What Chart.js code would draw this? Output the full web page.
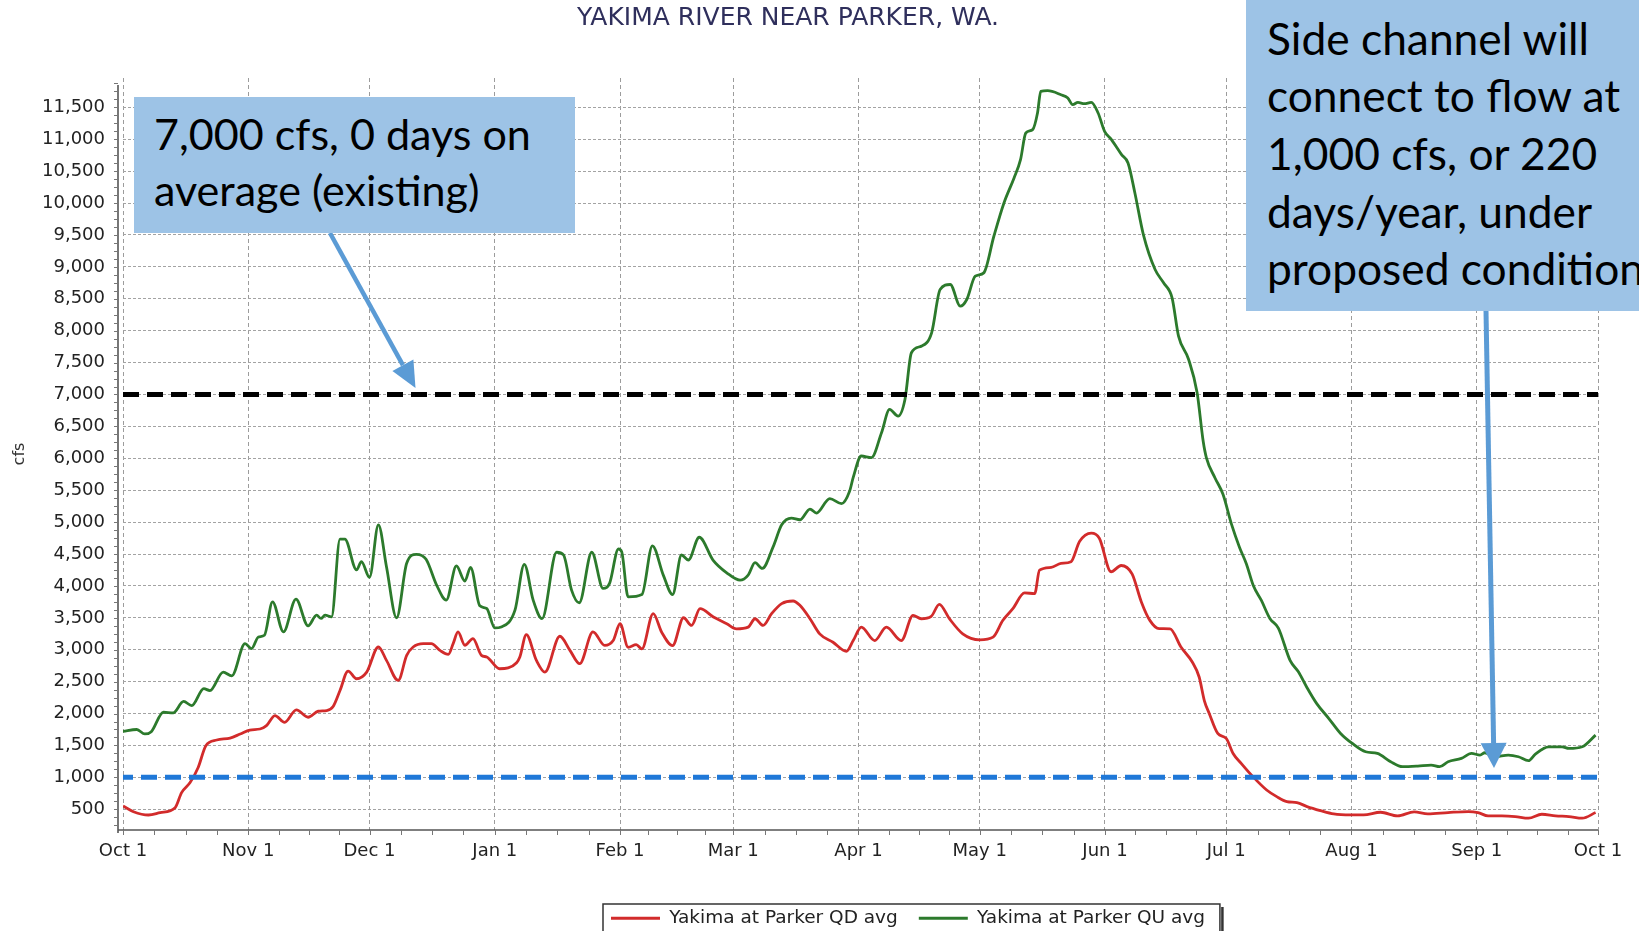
<!DOCTYPE html>
<html>
<head>
<meta charset="utf-8">
<script src="https://cdn.jsdelivr.net/npm/chart.js@4.4.1/dist/chart.umd.min.js"></script>
<style>
html,body{margin:0;padding:0;background:#fff;overflow:hidden;}
#wrap{position:relative;width:1639px;height:931px;overflow:hidden;background:#fff;}
#c{position:absolute;left:0;top:0;}
#arrows{position:absolute;left:0;top:0;}
.note{position:absolute;background:#9dc3e6;font-family:Lato,"Open Sans",sans-serif;color:#000;overflow:hidden;}
.note .ln{position:absolute;white-space:nowrap;line-height:1.2;}
</style>
</head>
<body>
<div id="wrap">
<canvas id="c" width="1639" height="931"></canvas>
<svg id="arrows" width="1639" height="931" xmlns="http://www.w3.org/2000/svg">
  <line x1="330" y1="233" x2="402.9" y2="365.2" stroke="#5b9bd5" stroke-width="4.5"/>
  <polygon points="415.5,388 392.4,371 413.4,359.4" fill="#5b9bd5"/>
  <line x1="1486" y1="311" x2="1493.6" y2="743" stroke="#5b9bd5" stroke-width="5"/>
  <polygon points="1494,768 1480.6,743.2 1506.6,742.8" fill="#5b9bd5"/>
</svg>
<div class="note" id="note1" style="left:134px;top:97px;width:441px;height:136px"></div>
<div class="note" id="note2" style="left:1246px;top:0px;width:400px;height:311px"></div>
</div>
<script>
// ---------- data ----------
const chartTitle = 'YAKIMA RIVER NEAR PARKER, WA.';
const monthTickDays = [0, 31, 61, 92, 123, 151, 182, 212, 243, 273, 304, 335, 365];
const monthTickLabels = ['Oct 1','Nov 1','Dec 1','Jan 1','Feb 1','Mar 1','Apr 1','May 1','Jun 1','Jul 1','Aug 1','Sep 1','Oct 1'];
const yTickValues = [500,1000,1500,2000,2500,3000,3500,4000,4500,5000,5500,6000,6500,7000,7500,8000,8500,9000,9500,10000,10500,11000,11500];
const seriesLabels = ['Yakima at Parker QD avg', 'Yakima at Parker QU avg'];
const refLevels = [7000, 1000];

const qdDays = [0,2.6,6.3,9.2,12.9,14.5,16.6,18.6,20.5,23.2,26.5,29,31.4,33.9,35.5,37.6,40,42.9,45.8,48.3,50.4,52,53.7,55.7,57.8,60.3,63.2,65.2,68.1,70.2,71.8,74.3,76.3,78.4,80.5,81.7,82.9,84.6,86.6,88.7,90,93.2,97.4,98.2,99.8,102.3,104.4,108.1,110.6,113,116.3,119.2,121.3,123,125,127,128.4,131.2,133.3,136,138.7,140.7,142.8,146.1,149.4,151.8,154.7,156.4,158.4,160.5,163,165.8,167.5,170,172.4,175.7,179,180.7,182.7,186,188.9,192.6,195.5,197.5,200,202,204.5,207.8,212,215.3,217.7,220.2,223.1,225.6,226.8,229.7,232.1,234.6,236.7,239.6,241.6,244.5,247,249.7,252,254.1,256.4,259.1,261.8,264.6,266.3,267.6,268.8,270.9,273,274.7,276.7,279.6,283,285.5,288,290.5,293,296.3,299.6,303.8,307,311.2,315.4,319.5,322.9,327.9,332.9,335.3,337.8,341.2,344.5,347.8,351.1,354.5,357.8,361.1,364.4];
const qdValues = [551,462,410,446,525,761,919,1155,1496,1585,1616,1679,1742,1758,1810,1968,1863,2057,1942,2036,2047,2110,2361,2666,2545,2650,3043,2833,2519,2912,3043,3096,3096,2991,2928,3096,3279,3070,3175,2912,2886,2702,2797,2886,3237,2833,2650,3211,2991,2781,3279,3068,3144,3407,3039,3081,3012,3565,3275,3065,3501,3381,3643,3512,3407,3328,3354,3486,3381,3565,3722,3764,3696,3486,3249,3118,2976,3144,3354,3144,3354,3144,3538,3486,3523,3712,3486,3249,3155,3197,3459,3643,3890,3880,4248,4290,4353,4380,4695,4827,4748,4222,4320,4188,3750,3460,3330,3328,3042,2807,2573,2200,2000,1688,1610,1375,1219,1011,802,698,620,604,542,479,427,412,412,453,396,458,427,448,464,448,396,396,386,360,422,396,386,360,448];

const quDays = [0,3.4,5.4,7,10,12.4,15,17,20,21.5,24.8,26.9,30.2,31.8,33.5,35,37,39.7,42.8,45.8,47.9,49,50,51.6,53.7,54.9,57.8,59,61,63.2,65.2,67.7,70.2,72.6,75,77.6,80,82.5,84.6,86,88.3,90,92,93.6,97,99.3,101.5,103.7,107.3,109,111,112.9,116,118.8,120.4,122.6,123.4,125,128.4,131,133.7,136,138.2,139.9,142.6,146,149.4,152.7,154.7,156.4,158.2,160.9,163,165.4,167.5,170,171.6,174.9,177.8,179.8,180.7,182.7,185.2,187.7,189.7,191.8,193.5,195.1,197.6,200.1,202.2,204.7,207.2,208.8,210.9,213,215.5,218,220.5,222.1,223.4,225.1,226.3,227.1,228.8,232.1,233.8,235,236.3,237.9,239.6,241.3,242.9,244.6,247.1,248.7,250.4,252.5,255.4,257.5,259.6,261.2,263.7,265.8,267.3,268.1,270.2,272.2,274.3,276.3,278,279.7,281.7,283.8,285.9,288.8,290.9,292.9,295.4,298.4,301.3,304.2,307.5,310.4,313.7,316.6,320.4,323.7,325.8,327.9,331.2,333.7,335.8,337,339.5,342.8,345.3,347.8,349.5,352.8,356.1,357.8,361.1,364.4];
const quValues = [1720,1750,1680,1716,2020,2010,2190,2125,2390,2360,2650,2590,3095,3017,3200,3227,3751,3280,3793,3374,3542,3490,3542,3515,4732,4732,4250,4381,4134,4958,4302,3500,4355,4496,4418,4014,3778,4313,4077,4292,3688,3647,3342,3358,3620,4339,3778,3489,4528,4486,3935,3736,4528,3961,4040,4579,4537,3827,3864,4627,4169,3864,4485,4406,4763,4406,4206,4090,4169,4364,4274,4616,4958,5063,5037,5205,5142,5368,5289,5484,5700,6036,6010,6401,6766,6662,6923,7654,7758,7967,8645,8724,8384,8489,8854,8906,9480,10002,10394,10681,11098,11150,11411,11750,11761,11698,11646,11542,11578,11557,11578,11411,11124,10994,10759,10628,10159,9506,8958,8750,8515,7915,7549,7027,6268,6008,5696,5436,4968,4604,4344,4006,3772,3490,3340,2833,2651,2417,2156,1922,1688,1531,1401,1375,1245,1167,1177,1193,1167,1245,1297,1375,1349,1386,1323,1349,1323,1261,1365,1479,1479,1453,1479,1662];

const note1Lines = ['7,000 cfs, 0 days on', 'average (existing)'];
const note2Lines = ['Side channel will', 'connect to flow at', '1,000 cfs, or 220', 'days/year, under', 'proposed conditions'];

// ---------- notes (text boxes) ----------
function layoutNote(id, lines, textX, firstBaseline, lineGap, targetWidth) {
  const el = document.getElementById(id);
  const boxLeft = parseFloat(el.style.left), boxTop = parseFloat(el.style.top);
  const mc = document.createElement('canvas').getContext('2d');
  mc.font = '100px Lato';
  const fs = 100 * targetWidth / mc.measureText(lines[0]).width;
  lines.forEach((t, i) => {
    const d = document.createElement('div');
    d.className = 'ln';
    d.textContent = t;
    d.style.fontSize = fs + 'px';
    d.style.left = (textX - boxLeft) + 'px';
    d.style.top = (firstBaseline + i * lineGap - 0.987 * fs - boxTop) + 'px';
    el.appendChild(d);
  });
}
layoutNote('note1', note1Lines, 154, 151, 56, 377);
layoutNote('note2', note2Lines, 1267, 54.5, 57.6, 323);

// ---------- chart ----------
const FONT = "'DejaVu Sans', Verdana, sans-serif";
const toPts = (days, vals) => days.map((d, i) => ({x: d, y: vals[i]}));

const layoutFix = {
  id: 'layoutFix',
  afterLayout(chart) {
    const lg = chart.legend;
    const pad = lg.options.labels.padding;
    lg.left = 611 - pad;
    lg.right = 1639;
    lg.top = 918 - pad - 9;
    lg.bottom = 960;
    const tb = chart.titleBlock;
    tb.left = 788 - 780;
    tb.right = 788 + 780;
  },
  afterDraw(chart) {
    const hb = chart.legend.legendHitBoxes;
    if (!hb || !hb.length) return;
    const ctx = chart.ctx;
    const l = hb[0].left - 8;
    const last = hb[hb.length - 1];
    const r = last.left + last.width + 15;
    ctx.save();
    ctx.strokeStyle = '#333';
    ctx.lineWidth = 1.5;
    ctx.strokeRect(l, 904, r - l, 40);
    ctx.lineWidth = 2.5;
    ctx.beginPath();
    ctx.moveTo(r + 2.5, 907);
    ctx.lineTo(r + 2.5, 931);
    ctx.stroke();
    ctx.restore();
  }
};

const axisDecor = {
  id: 'axisDecor',
  beforeDatasetsDraw(chart) {
    const {ctx, chartArea: a, scales: {x, y}} = chart;
    const ax = a.left - 5;
    ctx.save();
    ctx.strokeStyle = '#555';
    ctx.lineWidth = 1.6;
    ctx.beginPath();
    ctx.moveTo(ax, a.top + 7);
    ctx.lineTo(ax, a.bottom + 3);
    ctx.moveTo(ax, a.bottom);
    ctx.lineTo(a.right, a.bottom);
    ctx.stroke();
    ctx.lineWidth = 1;
    ctx.strokeStyle = '#777';
    ctx.beginPath();
    for (let i = 0; i < monthTickDays.length - 1; i++) {
      for (let q = 0; q < 4; q++) {
        const d = monthTickDays[i] + (monthTickDays[i + 1] - monthTickDays[i]) * q / 4;
        const px = Math.round(x.getPixelForValue(d)) + 0.5;
        ctx.moveTo(px, a.bottom);
        ctx.lineTo(px, a.bottom + 5);
      }
    }
    const pe = Math.round(x.getPixelForValue(365)) + 0.5;
    ctx.moveTo(pe, a.bottom);
    ctx.lineTo(pe, a.bottom + 5);
    for (let v = 250; v < y.max; v += 125) {
      const py = Math.round(y.getPixelForValue(v)) + 0.5;
      ctx.moveTo(ax, py);
      ctx.lineTo(ax - 4, py);
    }
    ctx.stroke();
    ctx.restore();
  }
};

new Chart(document.getElementById('c'), {
  type: 'line',
  data: {
    datasets: [
      {label: '7000', data: [{x: 0, y: refLevels[0]}, {x: 365, y: refLevels[0]}], borderColor: '#000', borderWidth: 5, borderDash: [16, 8], pointRadius: 0},
      {label: '1000', data: [{x: 0, y: refLevels[1]}, {x: 365, y: refLevels[1]}], borderColor: '#1f78d8', borderWidth: 5, borderDash: [16, 8], borderDashOffset: 6, pointRadius: 0},
      {label: seriesLabels[0], data: toPts(qdDays, qdValues), borderColor: '#d22b2b', backgroundColor: '#d22b2b', borderWidth: 2.8, pointRadius: 0, cubicInterpolationMode: 'monotone', borderJoinStyle: 'round'},
      {label: seriesLabels[1], data: toPts(quDays, quValues), borderColor: '#2c7a2c', backgroundColor: '#2c7a2c', borderWidth: 2.8, pointRadius: 0, cubicInterpolationMode: 'monotone', borderJoinStyle: 'round'}
    ]
  },
  options: {
    responsive: false,
    animation: false,
    devicePixelRatio: 1,
    layout: {padding: {left: 0, right: 41, top: 0, bottom: 0}},
    plugins: {
      title: {
        display: true, text: chartTitle, color: '#2f2f5c',
        font: {family: FONT, size: 25, weight: 'normal'},
        padding: {top: 3.5, bottom: 44.5}
      },
      legend: {
        position: 'bottom', align: 'start', maxHeight: 26,
        labels: {
          filter: (item) => item.datasetIndex >= 2,
          usePointStyle: true, pointStyle: 'line', pointStyleWidth: 49,
          padding: 21, color: '#222',
          font: {family: FONT, size: 18.5}
        }
      },
      tooltip: {enabled: false}
    },
    scales: {
      x: {
        type: 'linear', min: 0, max: 365,
        afterBuildTicks: (s) => { s.ticks = monthTickDays.map(v => ({value: v})); },
        afterFit: (s) => { s.height = 75; },
        ticks: {
          autoSkip: false, maxRotation: 0, minRotation: 0, padding: 11, color: '#222',
          font: {family: FONT, size: 18},
          callback: (v) => monthTickLabels[monthTickDays.indexOf(v)]
        },
        grid: {color: '#9c9c9c', lineWidth: 1, drawTicks: false},
        border: {display: false, dash: [4, 3]}
      },
      y: {
        type: 'linear', min: 175, max: 11960,
        afterBuildTicks: (s) => { s.ticks = yTickValues.map(v => ({value: v})); },
        afterFit: (s) => { s.width = 123; },
        ticks: {
          padding: 18, color: '#222',
          font: {family: FONT, size: 18},
          callback: (v) => Number(v).toLocaleString('en-US')
        },
        grid: {color: '#a3a3a3', lineWidth: 1, drawTicks: false},
        border: {display: false, dash: [3, 2]},
        title: {display: true, text: 'cfs', color: '#333', font: {family: FONT, size: 16}, padding: {top: 10, bottom: 0}}
      }
    }
  },
  plugins: [layoutFix, axisDecor]
});
</script>
</body>
</html>
